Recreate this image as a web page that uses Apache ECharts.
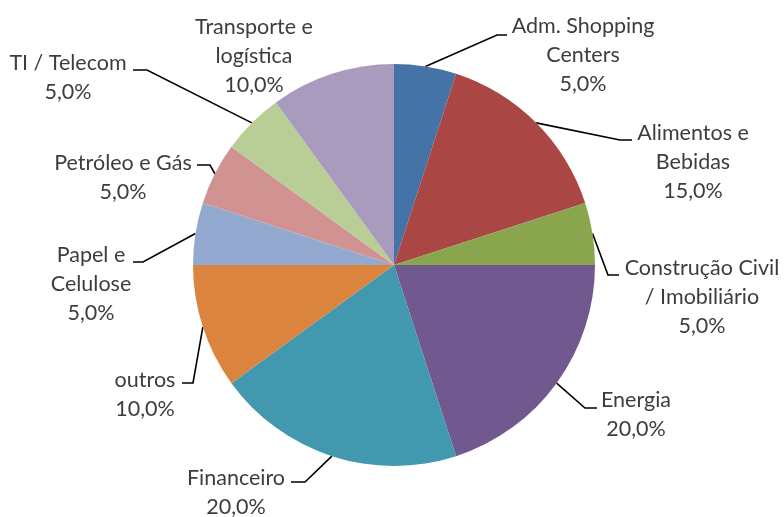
<!DOCTYPE html>
<html>
<head>
<meta charset="utf-8">
<script src="https://cdn.jsdelivr.net/npm/echarts@6/dist/echarts.min.js"></script>
<style>
  html, body { margin: 0; padding: 0; background: #fff; }
  #main { width: 784px; height: 517px; }
</style>
</head>
<body>
<div id="main"></div>
<script>
  // categories, clockwise from 12 o'clock (line breaks as in the picture)
  const categories = [
    'Adm. Shopping\nCenters',
    'Alimentos e\nBebidas',
    'Construção Civil\n/ Imobiliário',
    'Energia',
    'Financeiro',
    'outros',
    'Papel e\nCelulose',
    'Petróleo e Gás',
    'TI / Telecom',
    'Transporte e\nlogística'
  ];
  const shares = [5, 15, 5, 20, 20, 10, 5, 5, 5, 10];

  const colors = ['#4572A7', '#AA4643', '#89A54E', '#71588F', '#4198AF',
                  '#DB843D', '#93A9CF', '#D19392', '#B9CD96', '#A99BBD'];

  // label placement: [text centre x, first line centre y]
  const labelPos = [
    [583, 26], [693, 133], [702, 268], [636, 400], [236, 478],
    [145, 380], [91, 255], [123, 163], [68, 63], [254, 27]
  ];
  // leader line elbow and end, null = no line
  const leader = [
    [[497, 35], [507, 35]],
    [[620, 140], [632, 140]],
    [[608, 275], [619, 275]],
    [[585, 408], [597, 408]],
    [[305, 482], [291, 482]],
    [[193, 383], [182, 383]],
    [[143, 262], [133, 262]],
    [[210, 165], [197, 165]],
    [[147, 70], [133, 70]],
    null
  ];

  const LINE_H = 29;
  const FONT = 21.5;

  var myChart = echarts.init(document.getElementById('main'));

  var option = {
    backgroundColor: '#fff',
    animation: false,
    color: colors,
    series: [{
      type: 'pie',
      center: [394, 265],
      radius: 201,
      startAngle: 90,
      clockwise: true,
      avoidLabelOverlap: false,
      itemStyle: { borderWidth: 0 },
      emphasis: { disabled: true },
      label: {
        show: true,
        position: 'outside',
        color: '#3d3d3d',
        fontFamily: 'Lato',
        fontSize: FONT,
        formatter: function (p) {
          var pct = p.value.toFixed(1).replace('.', ',') + '%';
          var rows = p.name.split('\n').concat([pct]);
          return rows.map(function (r) { return '{t|' + r + '}'; }).join('\n');
        },
        rich: {
          t: {
            align: 'center',
            lineHeight: LINE_H,
            fontSize: FONT,
            fontFamily: 'Lato',
            color: '#3d3d3d'
          }
        }
      },
      labelLine: {
        show: true,
        length: 10,
        length2: 10,
        lineStyle: { color: '#000', width: 1.6 }
      },
      labelLayout: function (params) {
        var i = params.dataIndex;
        var out = {
          x: labelPos[i][0],
          y: labelPos[i][1] - LINE_H / 2,
          align: 'center',
          verticalAlign: 'top'
        };
        if (leader[i] && params.labelLinePoints) {
          out.labelLinePoints = [params.labelLinePoints[0], leader[i][0], leader[i][1]];
        }
        return out;
      },
      data: categories.map(function (c, i) {
        var d = { name: c, value: shares[i] };
        if (!leader[i]) d.labelLine = { show: false };
        return d;
      })
    }]
  };

  option && myChart.setOption(option);
</script>
</body>
</html>
